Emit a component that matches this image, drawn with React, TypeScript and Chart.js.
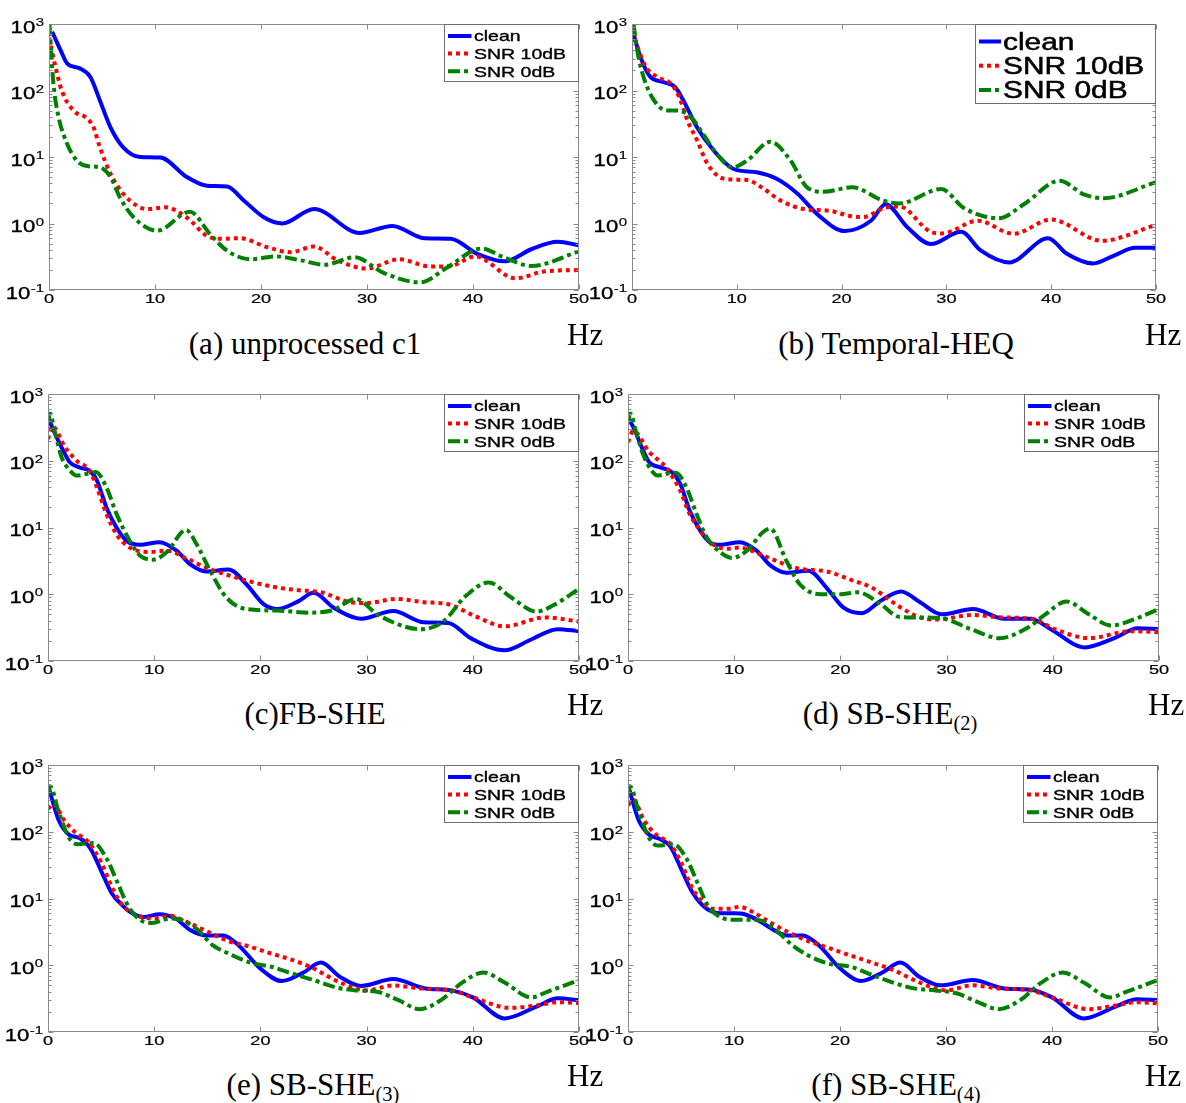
import React, { useEffect, useRef } from "react";
import { Chart, registerables } from "chart.js";

Chart.register(...registerables);

type Pt = [number, number];

// ---------- data ----------
const SERIES_LABELS = ["clean", "SNR 10dB", "SNR 0dB"];
const X_TICKS = [0, 10, 20, 30, 40, 50];
const Y_EXPONENTS = [3, 2, 1, 0, -1];
const PANEL_TITLES = ["(a) unprocessed c1", "(b) Temporal-HEQ", "(c)FB-SHE", "(d) SB-SHE", "(e) SB-SHE", "(f) SB-SHE"];
const PANEL_SUBS = ["", "", "", "(2)", "(3)", "(4)"];
const X_UNIT = "Hz";

// (a) unprocessed c1
const A_CLEAN: Pt[] = [[0.3, 760], [1.1, 400], [1.7, 256], [2.9, 215], [3.9, 160], [4.8, 71], [5.8, 28], [7, 14], [8.6, 10], [10.5, 9.8], [13, 5], [14.9, 3.7], [16.8, 3.6], [18.4, 2.2], [20.3, 1.23], [22, 1.0], [25, 1.65], [29.3, 0.72], [32.4, 0.92], [35.4, 0.6], [37.9, 0.59], [40.4, 0.35], [43, 0.27], [45.5, 0.41], [48, 0.53], [50, 0.47]];
const A_SNR10: Pt[] = [[0, 620], [0.6, 230], [1.2, 100], [2.3, 50], [3.6, 38], [4.2, 28], [4.8, 14], [5.8, 5.6], [7, 2.8], [8.3, 1.85], [9.2, 1.65], [11, 1.75], [13, 1.23], [14.9, 0.65], [16.2, 0.59], [18, 0.6], [20.6, 0.44], [22.8, 0.37], [25, 0.45], [27.2, 0.28], [30, 0.21], [33, 0.29], [36, 0.225], [37.9, 0.23], [40.2, 0.32], [44, 0.15], [46.7, 0.19], [50, 0.2]];
const A_SNR0: Pt[] = [[0.05, 1000], [0.25, 285], [0.45, 113], [0.9, 40], [1.7, 16], [2.6, 8.9], [3.6, 7.3], [4.8, 7], [5.8, 5], [6.7, 2.45], [8, 1.23], [10.2, 0.78], [13.3, 1.5], [15.2, 0.69], [16.8, 0.39], [19, 0.29], [21.5, 0.32], [23.7, 0.28], [26, 0.24], [28.8, 0.31], [31.6, 0.18], [35, 0.13], [37.6, 0.22], [40.8, 0.42], [42.9, 0.31], [45.5, 0.23], [50, 0.38]];

// (b) Temporal-HEQ
const B_CLEAN: Pt[] = [[0, 850], [0.8, 320], [1.75, 160], [3, 134], [4.1, 113], [4.9, 71], [6.2, 28], [7.8, 12.5], [9.7, 6.6], [11.9, 5.9], [13.8, 4.7], [15.8, 2.8], [17.7, 1.37], [20.3, 0.77], [22.8, 1.1], [24.2, 1.95], [26.3, 0.87], [28.5, 0.49], [31.4, 0.75], [33.3, 0.39], [36, 0.26], [39.7, 0.6], [41.5, 0.35], [44, 0.25], [46, 0.33], [48, 0.43], [50, 0.43]];
const B_SNR10: Pt[] = [[0, 760], [1.3, 230], [2.4, 160], [3.7, 127], [4.5, 80], [5.3, 35], [6.2, 18], [7.2, 7.9], [8.8, 4.7], [11, 4.5], [12.6, 3.3], [14.2, 2.2], [16.4, 1.65], [18.9, 1.55], [20.8, 1.3], [22.1, 1.25], [24, 1.7], [25.5, 1.8], [28.5, 0.75], [29.6, 0.71], [33, 1.1], [36.4, 0.7], [40, 1.15], [44.8, 0.55], [50, 0.95]];
const B_SNR0: Pt[] = [[0.15, 1000], [0.5, 400], [1.1, 160], [2.1, 71], [3.3, 50], [4.3, 50], [5.6, 40], [6.8, 22], [8.1, 11], [9.6, 7], [11, 8.9], [13.2, 17], [15.1, 9], [16.7, 3.5], [18.3, 3.0], [21, 3.5], [24, 2.2], [25.5, 2.0], [29.5, 3.3], [31.7, 1.7], [35, 1.2], [37.4, 1.95], [40.8, 4.4], [43.1, 2.75], [45, 2.4], [50, 4.2]];

// (c) FB-SHE
const C_CLEAN: Pt[] = [[0, 450], [0.5, 290], [1.4, 145], [2.05, 95], [3, 79], [3.9, 71], [4.6, 51], [5.5, 20], [6.45, 10], [7.4, 6.3], [8.65, 5.5], [10.5, 6.0], [12.1, 4.5], [13.4, 2.8], [14.9, 2.2], [17, 2.35], [18.7, 1.4], [20.3, 0.71], [21.6, 0.6], [23.6, 0.79], [25, 1.05], [26.9, 0.63], [29.5, 0.43], [32.5, 0.56], [35.4, 0.38], [37.7, 0.37], [39.8, 0.22], [43, 0.145], [45.5, 0.21], [48, 0.3], [50, 0.28]];
const C_SNR10: Pt[] = [[0, 210], [0.4, 330], [1.6, 160], [2.7, 100], [3.9, 72], [4.6, 40], [5.5, 16], [6.45, 7.9], [7.7, 5], [9.6, 4.3], [11.2, 4.5], [13.1, 3.4], [14.9, 2.5], [17.1, 1.9], [19.4, 1.5], [21.6, 1.26], [23.6, 1.15], [25.7, 1.07], [28.5, 0.76], [30, 0.74], [32.8, 0.85], [35.4, 0.76], [37.7, 0.71], [40.1, 0.48], [43, 0.33], [46.8, 0.45], [50, 0.39]];
const C_SNR0: Pt[] = [[0, 360], [0.2, 510], [0.6, 290], [1.26, 115], [2.05, 72], [2.7, 60], [3.9, 65], [4.5, 68], [5.5, 40], [6.45, 16], [7.7, 6.3], [8.65, 3.8], [9.9, 3.3], [11.2, 4.3], [13, 9.2], [14, 5.6], [15.3, 2.2], [16.8, 0.89], [18.7, 0.6], [21.6, 0.57], [24.5, 0.53], [26.7, 0.57], [29, 0.85], [31, 0.5], [33.8, 0.32], [35.2, 0.3], [37.3, 0.4], [39.2, 0.9], [41.5, 1.5], [43.6, 0.9], [46, 0.55], [47.7, 0.7], [50, 1.2]];

// (d) SB-SHE(2)
const D_CLEAN: Pt[] = [[0, 430], [0.5, 320], [1.4, 145], [2, 95], [3.1, 79], [4.1, 68], [4.9, 46], [5.8, 18], [6.8, 9], [7.7, 6], [8.65, 5.5], [10.5, 6], [12.1, 4.5], [13.4, 2.7], [14.9, 2.1], [17, 2.25], [18.7, 1.25], [20.3, 0.63], [22, 0.52], [23.8, 0.8], [25.7, 1.1], [27.5, 0.76], [29.5, 0.5], [32.5, 0.6], [35.4, 0.43], [37.9, 0.43], [39.8, 0.3], [43, 0.16], [45.8, 0.22], [48, 0.31], [50, 0.3]];
const D_SNR10: Pt[] = [[0, 190], [0.5, 280], [2, 135], [3.6, 79], [4.9, 36], [5.8, 16], [6.8, 9], [8, 5.6], [9.3, 4.8], [10.5, 5], [12.4, 4], [14.3, 3], [16.2, 2.4], [18.7, 2.2], [21.2, 1.6], [23, 1.25], [24.5, 0.85], [25.7, 0.63], [27.5, 0.45], [29.1, 0.42], [32.5, 0.49], [35.2, 0.45], [38, 0.43], [40.2, 0.3], [43.4, 0.22], [47.4, 0.28], [50, 0.27]];
const D_SNR0: Pt[] = [[0, 360], [0.2, 510], [0.8, 255], [1.4, 127], [2.2, 72], [2.8, 60], [3.9, 65], [4.5, 66], [5.5, 40], [6.45, 16], [7.4, 7.2], [8.65, 4.3], [9.8, 3.5], [11.2, 4.5], [12.7, 8.5], [13.4, 9.6], [14.9, 3.2], [16.2, 1.4], [18.1, 1.0], [20, 1.0], [21.6, 1.07], [23.8, 0.71], [25.5, 0.46], [27, 0.45], [29.4, 0.44], [32.3, 0.3], [35, 0.22], [37.7, 0.32], [39.3, 0.5], [41.3, 0.78], [43.4, 0.5], [45.5, 0.34], [47.8, 0.43], [50, 0.6]];

// (e) SB-SHE(3)
const E_CLEAN: Pt[] = [[0, 500], [1, 150], [2, 90], [3, 80], [4, 56], [5, 26], [6, 12], [7, 7.9], [8, 5.9], [9, 5.3], [10.5, 5.8], [12, 5], [13.5, 3.3], [15, 2.8], [16.5, 2.8], [18, 1.95], [20, 0.89], [22, 0.58], [24, 0.77], [25.7, 1.1], [27.5, 0.67], [29.5, 0.49], [32.5, 0.62], [35.5, 0.45], [38, 0.42], [40, 0.33], [43, 0.16], [46, 0.24], [48, 0.32], [50, 0.3]];
const E_SNR10: Pt[] = [[0, 220], [0.5, 260], [1.5, 150], [2.5, 100], [3.8, 70], [5, 35], [6, 15], [7, 8], [8.5, 5.5], [10, 5], [11.5, 5.5], [13, 4.5], [15, 3.2], [17, 2.3], [19, 1.9], [21, 1.5], [23, 1.2], [25, 0.9], [27, 0.6], [29, 0.45], [30, 0.42], [32.5, 0.5], [35, 0.45], [38, 0.42], [40, 0.33], [43.5, 0.23], [46, 0.25], [48, 0.28], [50, 0.27]];
const E_SNR0: Pt[] = [[0, 350], [0.2, 480], [1, 200], [2, 80], [2.8, 65], [4.3, 68], [5.5, 40], [6.5, 18], [7.5, 8], [8.5, 5], [9.8, 4.3], [11.5, 5], [12.5, 4.8], [14, 3.5], [15.5, 2], [17, 1.5], [19, 1.1], [21, 0.95], [23, 0.75], [25, 0.6], [27, 0.47], [29, 0.42], [31, 0.4], [33, 0.3], [35, 0.22], [37, 0.3], [39, 0.55], [41, 0.78], [43, 0.55], [45.5, 0.33], [47, 0.4], [50, 0.6]];

// (f) SB-SHE(4)
const F_CLEAN: Pt[] = [[0, 500], [1, 150], [2, 90], [3, 78], [4, 60], [5, 28], [6, 13], [7, 8], [8, 6.3], [9, 6], [10, 6], [11, 5.8], [12.5, 4.5], [14, 3.2], [15, 2.8], [16.5, 2.8], [18, 2], [20, 0.9], [22, 0.58], [24, 0.78], [25.7, 1.1], [27.5, 0.67], [29.5, 0.5], [32.5, 0.6], [35.5, 0.45], [38, 0.43], [40, 0.33], [43, 0.16], [46, 0.24], [48, 0.31], [50, 0.3]];
const F_SNR10: Pt[] = [[0, 250], [0.5, 300], [1.5, 150], [2.5, 95], [4, 65], [5, 35], [6, 15], [7, 9], [8, 7], [9.5, 7], [10.5, 7.5], [12, 6], [13.5, 4.3], [15, 3.2], [17, 2.3], [19, 1.8], [21, 1.4], [23, 1.1], [25, 0.85], [27, 0.6], [29, 0.45], [30, 0.42], [32.5, 0.5], [35, 0.45], [38, 0.42], [40, 0.33], [43.5, 0.22], [46, 0.25], [48, 0.28], [50, 0.27]];
const F_SNR0: Pt[] = [[0, 350], [0.2, 480], [1, 200], [2, 80], [2.8, 62], [4.3, 65], [5.5, 40], [6.5, 18], [7.5, 8], [8.5, 5.5], [10, 4.8], [11.5, 4.8], [12.5, 4.7], [14, 3.3], [15.5, 2], [17, 1.4], [19, 1.05], [21, 0.95], [23, 0.72], [25, 0.55], [27, 0.45], [29, 0.42], [31, 0.38], [33, 0.28], [35, 0.22], [37, 0.3], [39, 0.55], [41, 0.78], [43, 0.55], [45.5, 0.33], [47, 0.4], [50, 0.6]];

const PANEL_SERIES: Pt[][][] = [
  [A_CLEAN, A_SNR10, A_SNR0],
  [B_CLEAN, B_SNR10, B_SNR0],
  [C_CLEAN, C_SNR10, C_SNR0],
  [D_CLEAN, D_SNR10, D_SNR0],
  [E_CLEAN, E_SNR10, E_SNR0],
  [F_CLEAN, F_SNR10, F_SNR0],
];

// ---------- layout & style ----------
const SERIES_COLORS = ["#0000ff", "#ff0000", "#008000"];
const SERIES_DASHES: number[][] = [[], [4, 4], [12, 4, 4, 4]];
const SERIES_ORDER = [2, 1, 0];
const AXIS_COLOR = "#8a8a8a";
const SANS = '"Liberation Sans", Arial, Helvetica, sans-serif';
const SERIF = '"Liberation Serif", "Times New Roman", Times, serif';
const AXIS_W = 50;
const AXIS_H = 30;
const PAD_T = 15;
const PAD_R = 15;

type Box = { L: number; R: number; T: number; B: number };
const PANEL_BOXES: Box[] = [
  { L: 49, R: 578, T: 24, B: 289 },
  { L: 632, R: 1155, T: 24, B: 289 },
  { L: 48, R: 578, T: 394, B: 660 },
  { L: 628, R: 1158, T: 394, B: 660 },
  { L: 48, R: 578, T: 765, B: 1031 },
  { L: 628, R: 1157, T: 765, B: 1031 },
];
const TITLE_POS = [
  { cx: 305, base: 354, hz: 567, hzBase: 345 },
  { cx: 896, base: 354, hz: 1145, hzBase: 345 },
  { cx: 315, base: 724, hz: 567, hzBase: 715 },
  { cx: 890, base: 724, hz: 1148, hzBase: 715 },
  { cx: 313, base: 1095, hz: 567, hzBase: 1086 },
  { cx: 896, base: 1095, hz: 1145, hzBase: 1086 },
];

type LegendOpts = { w: number; h: number; rows: number[]; fs: number; s0: number; s1: number; tx: number };
const LEGEND_SMALL: LegendOpts = { w: 134, h: 57, rows: [11.5, 29, 46.7], fs: 15, s0: 3.5, s1: 27, tx: 29.5 };
const LEGEND_LARGE: LegendOpts = { w: 180, h: 79, rows: [17, 41.2, 65.5], fs: 23, s0: 3.5, s1: 25.5, tx: 27.5 };
const PANEL_LEGENDS = [LEGEND_SMALL, LEGEND_LARGE, LEGEND_SMALL, LEGEND_SMALL, LEGEND_SMALL, LEGEND_SMALL];

function stretchText(
  ctx: CanvasRenderingContext2D,
  text: string,
  x: number,
  y: number,
  font: string,
  align: CanvasTextAlign,
  sx: number,
  thicken = 0
) {
  ctx.save();
  ctx.font = font;
  ctx.textAlign = align;
  ctx.textBaseline = "alphabetic";
  ctx.fillStyle = "#000";
  ctx.strokeStyle = "#000";
  ctx.translate(x, y);
  ctx.scale(sx, 1);
  ctx.fillText(text, 0, 0);
  if (thicken > 0) {
    ctx.lineWidth = thicken;
    ctx.setLineDash([]);
    ctx.strokeText(text, 0, 0);
  }
  ctx.restore();
}

const matlabPlugin = {
  id: "matlab",
  afterDatasetsDraw(chart: any, _args: any, opts: any) {
    const { ctx, chartArea: a } = chart;
    const xs = chart.scales.x;
    const ys = chart.scales.y;
    const L = Math.round(a.left) + 0.5;
    const R = Math.round(a.right) - 0.5;
    const T = Math.round(a.top) + 0.5;
    const B = Math.round(a.bottom) - 0.5;
    ctx.save();
    ctx.strokeStyle = AXIS_COLOR;
    ctx.lineWidth = 1;
    ctx.setLineDash([]);
    ctx.strokeRect(L, T, R - L, B - T);
    ctx.beginPath();
    for (const v of X_TICKS) {
      const px = Math.round(xs.getPixelForValue(v)) + 0.5;
      ctx.moveTo(px, B);
      ctx.lineTo(px, B - 5);
      ctx.moveTo(px, T);
      ctx.lineTo(px, T + 5);
    }
    for (let e = -1; e <= 2; e++) {
      for (let k = 1; k <= 9; k++) {
        const py = Math.round(ys.getPixelForValue(k * Math.pow(10, e))) + 0.5;
        const len = k === 1 ? 5 : 3;
        ctx.moveTo(L, py);
        ctx.lineTo(L + len, py);
        ctx.moveTo(R, py);
        ctx.lineTo(R - len, py);
      }
    }
    ctx.stroke();

    const lg: LegendOpts | undefined = opts && opts.w ? opts : undefined;
    if (lg) {
      const bx = Math.round(a.right) - 1 - lg.w + 0.5;
      const by = T;
      ctx.fillStyle = "#ffffff";
      ctx.fillRect(bx, by, lg.w, lg.h);
      ctx.strokeStyle = "#6e6e6e";
      ctx.strokeRect(bx, by, lg.w, lg.h);
      chart.data.datasets.forEach((ds: any, i: number) => {
        const ry = by + lg.rows[i];
        ctx.save();
        ctx.strokeStyle = ds.borderColor;
        ctx.lineWidth = 4;
        ctx.lineCap = "butt";
        ctx.setLineDash(ds.borderDash || []);
        ctx.beginPath();
        ctx.moveTo(bx + lg.s0, ry);
        ctx.lineTo(bx + lg.s1, ry);
        ctx.stroke();
        ctx.restore();
        stretchText(ctx, ds.label, bx + lg.tx, ry + lg.fs * 0.36, `${lg.fs}px ${SANS}`, "left", 1.3, lg.fs > 20 ? 0.5 : 0.35);
      });
    }
    ctx.restore();
  },
  afterDraw(chart: any) {
    const { ctx, chartArea: a } = chart;
    const xs = chart.scales.x;
    const ys = chart.scales.y;
    const L = Math.round(a.left);
    const B = Math.round(a.bottom) - 1;
    ctx.save();
    for (const v of X_TICKS) {
      const px = xs.getPixelForValue(v);
      stretchText(ctx, String(v), px, B + 13.5, `12.5px ${SANS}`, "center", 1.45, 0.2);
    }
    for (const e of Y_EXPONENTS) {
      const py = ys.getPixelForValue(Math.pow(10, e));
      const expStr = String(e);
      ctx.font = `11.5px ${SANS}`;
      const ew = ctx.measureText(expStr).width * 1.3;
      const ex = L - 5 - ew;
      stretchText(ctx, expStr, ex, py + 2, `11.5px ${SANS}`, "left", 1.3, 0.2);
      stretchText(ctx, "10", ex - 0.5, py + 8.5, `17px ${SANS}`, "right", 1.3, 0.35);
    }
    ctx.restore();
  },
};

function Panel({ index }: { index: number }) {
  const ref = useRef<HTMLCanvasElement | null>(null);
  const box = PANEL_BOXES[index];
  const W = box.R - box.L + 1 + AXIS_W + PAD_R;
  const H = box.B - box.T + 1 + PAD_T + AXIS_H;
  useEffect(() => {
    if (!ref.current) return;
    const series = PANEL_SERIES[index];
    const chart = new Chart(ref.current, {
      type: "line",
      data: {
        datasets: series.map((pts, i) => ({
          label: SERIES_LABELS[i],
          data: pts.map(([x, y]) => ({ x, y })),
          borderColor: SERIES_COLORS[i],
          backgroundColor: SERIES_COLORS[i],
          borderWidth: 4,
          borderDash: SERIES_DASHES[i],
          borderCapStyle: "butt",
          borderJoinStyle: "round",
          pointRadius: 0,
          cubicInterpolationMode: "monotone",
          fill: false,
          clip: 0,
          order: SERIES_ORDER[i],
        })) as any,
      },
      options: {
        animation: false,
        responsive: false,
        events: [],
        layout: { padding: { left: 0, top: PAD_T, right: PAD_R, bottom: 0 } },
        plugins: {
          legend: { display: false },
          tooltip: { enabled: false },
          matlab: PANEL_LEGENDS[index],
        } as any,
        scales: {
          x: {
            type: "linear",
            min: 0,
            max: 50,
            ticks: { display: false },
            grid: { display: false },
            border: { display: false },
            afterFit: (s: any) => {
              s.height = AXIS_H;
            },
          },
          y: {
            type: "logarithmic",
            min: 0.1,
            max: 1000,
            ticks: { display: false },
            grid: { display: false },
            border: { display: false },
            afterFit: (s: any) => {
              s.width = AXIS_W;
            },
          },
        },
      } as any,
      plugins: [matlabPlugin as any],
    });
    return () => chart.destroy();
  }, [index]);
  return (
    <canvas
      ref={ref}
      width={W}
      height={H}
      style={{ position: "absolute", left: box.L - AXIS_W, top: box.T - PAD_T, width: W, height: H }}
    />
  );
}

function Title({ index }: { index: number }) {
  const p = TITLE_POS[index];
  const fs = 31;
  const asc = 0.8375 * fs;
  return (
    <>
      <div
        style={{
          position: "absolute",
          left: p.cx,
          top: p.base - asc,
          transform: "translateX(-50%)",
          fontFamily: SERIF,
          fontSize: fs,
          lineHeight: `${fs}px`,
          whiteSpace: "nowrap",
          color: "#000",
        }}
      >
        {PANEL_TITLES[index]}
        {PANEL_SUBS[index] ? (
          <span style={{ fontSize: "0.66em", verticalAlign: "-0.28em", lineHeight: 0 }}>{PANEL_SUBS[index]}</span>
        ) : null}
      </div>
      <div
        style={{
          position: "absolute",
          left: p.hz,
          top: p.hzBase - asc,
          fontFamily: SERIF,
          fontSize: fs,
          lineHeight: `${fs}px`,
          whiteSpace: "nowrap",
          color: "#000",
        }}
      >
        {X_UNIT}
      </div>
    </>
  );
}

export default function App() {
  return (
    <div
      style={{
        position: "absolute",
        left: 0,
        top: 0,
        width: 1186,
        height: 1103,
        background: "#ffffff",
        overflow: "hidden",
      }}
    >
      {PANEL_BOXES.map((_, i) => (
        <Panel key={`p${i}`} index={i} />
      ))}
      {PANEL_BOXES.map((_, i) => (
        <Title key={`t${i}`} index={i} />
      ))}
    </div>
  );
}
